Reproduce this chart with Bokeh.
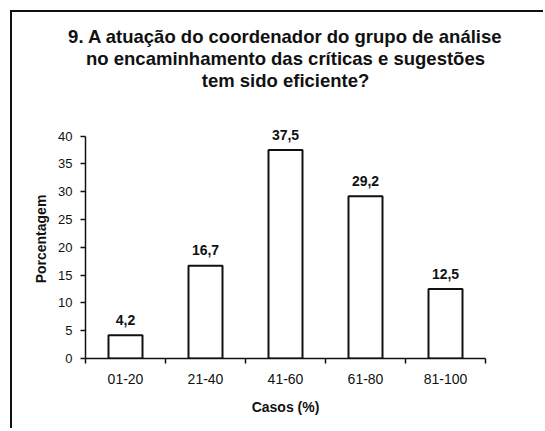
from bokeh.plotting import figure
from bokeh.models import Range1d, FixedTicker, Title, ColumnDataSource
from bokeh.core.properties import value
from bokeh.embed import file_html
from bokeh.resources import INLINE

# ---- data ----
categories = ["01-20", "21-40", "41-60", "61-80", "81-100"]
percentages = [4.2, 16.7, 37.5, 29.2, 12.5]
value_labels = ["4,2", "16,7", "37,5", "29,2", "12,5"]
y_ticks = [0, 5, 10, 15, 20, 25, 30, 35, 40]
title_lines = [
    "9. A atuação do coordenador do grupo de análise",
    "no encaminhamento das críticas e sugestões",
    "tem sido eficiente?",
]
x_label = "Casos (%)"
y_label = "Porcentagem"

FONT = "Liberation Sans"
INK = "#111111"

positions = [i + 0.5 for i in range(len(categories))]
boundaries = [float(i) for i in range(len(categories) + 1)]

src = ColumnDataSource(dict(x=positions, top=percentages, lab=value_labels))

p = figure(
    frame_width=400, frame_height=239,
    x_range=Range1d(0, len(categories)),
    y_range=Range1d(0, 43),
    output_backend="svg", toolbar_location=None,
    min_border_left=73, min_border_right=58,
    min_border_bottom=70, min_border_top=0,
    styles={"margin-left": "10px", "margin-top": "10px",
            "border-left": "2px solid #111", "border-top": "2px solid #111"},
)
p.outline_line_color = None
p.xgrid.visible = False
p.ygrid.visible = False
p.background_fill_color = "white"
p.border_fill_color = "white"

def spacer(standoff):
    return Title(text=" ", text_font_size="1px", standoff=standoff)

# above panel, added from nearest the frame outward
p.add_layout(spacer(26.2), "above")
for line in reversed(title_lines):
    p.add_layout(Title(text=line, align="center", text_font=FONT,
                       text_font_style="bold", text_font_size="18.5px",
                       text_color=INK, standoff=-1.2), "above")
p.add_layout(spacer(9.2), "above")

p.vbar(x="x", top="top", width=0.425, bottom=0, source=src,
       fill_color="white", line_color=INK, line_width=2)
p.text(x="x", y="top", text="lab", source=src,
       text_align="center", text_baseline="bottom", y_offset=-10.5,
       text_font=value(FONT), text_font_style="bold",
       text_font_size="14px", text_color=INK)

# x axis
xa = p.xaxis[0]
xa.ticker = FixedTicker(ticks=positions, minor_ticks=boundaries)
xa.major_label_overrides = {pos: c for pos, c in zip(positions, categories)}
xa.major_tick_line_color = None
xa.minor_tick_in = 0
xa.minor_tick_out = 5
xa.minor_tick_line_color = INK
xa.minor_tick_line_width = 1.5
xa.axis_line_color = INK
xa.axis_line_width = 1.5
xa.major_label_text_font = FONT
xa.major_label_text_font_size = "14px"
xa.major_label_text_color = INK
xa.major_label_standoff = 9
xa.axis_label = x_label
xa.axis_label_text_font = FONT
xa.axis_label_text_font_style = "bold"
xa.axis_label_text_font_size = "14px"
xa.axis_label_text_color = INK
xa.axis_label_standoff = 12

# y axis
ya = p.yaxis[0]
ya.ticker = FixedTicker(ticks=y_ticks, minor_ticks=[])
ya.bounds = (0, 40)
ya.major_tick_in = 0
ya.major_tick_out = 5
ya.major_tick_line_color = INK
ya.major_tick_line_width = 1.5
ya.axis_line_color = INK
ya.axis_line_width = 1.5
ya.major_label_text_font = FONT
ya.major_label_text_font_size = "13px"
ya.major_label_text_color = INK
ya.major_label_standoff = 8
ya.axis_label = y_label
ya.axis_label_text_font = FONT
ya.axis_label_text_font_style = "bold"
ya.axis_label_text_font_size = "14px"
ya.axis_label_text_color = INK
ya.axis_label_standoff = 6

open("out.html", "w").write(file_html(p, INLINE))
